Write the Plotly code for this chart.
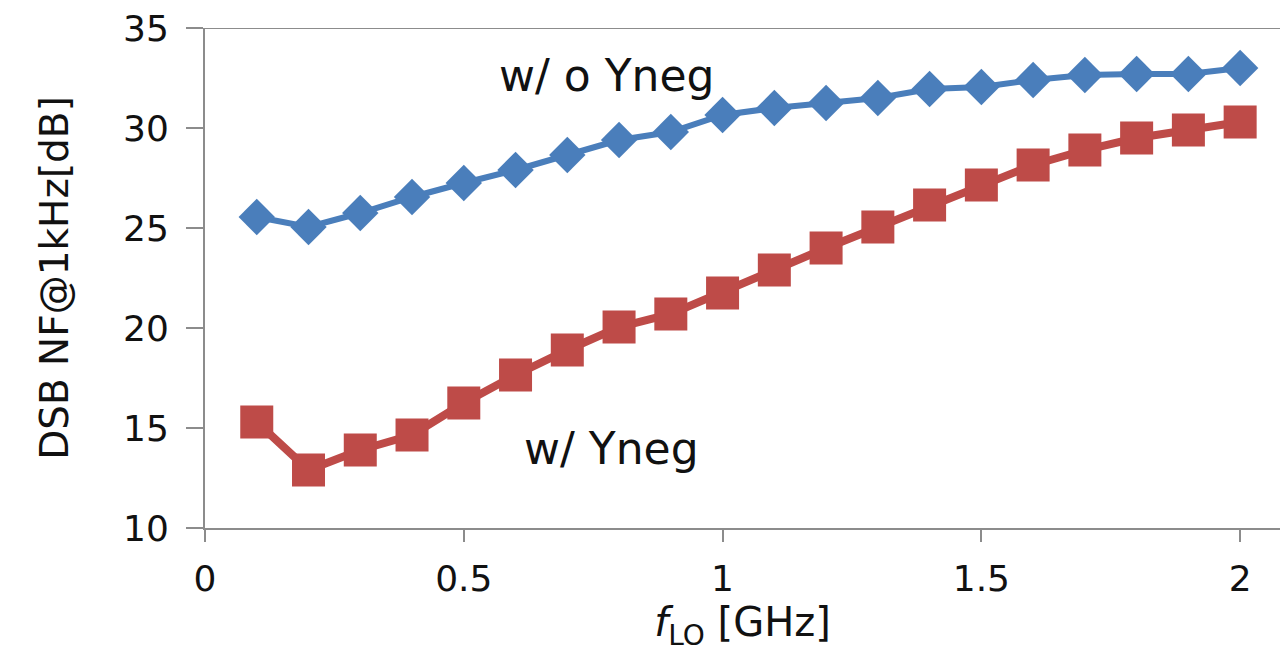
import plotly.graph_objects as go

f_lo = [0.1, 0.2, 0.3, 0.4, 0.5, 0.6, 0.7, 0.8, 0.9, 1.0,
        1.1, 1.2, 1.3, 1.4, 1.5, 1.6, 1.7, 1.8, 1.9, 2.0]
nf_without = [25.55, 25.05, 25.75, 26.55, 27.25, 27.9, 28.65, 29.4, 29.8, 30.65,
              31.0, 31.25, 31.5, 31.95, 32.05, 32.4, 32.65, 32.7, 32.7, 33.0]
nf_with = [15.3, 12.9, 13.9, 14.65, 16.25, 17.65, 18.9, 20.05, 20.7, 21.75,
           22.9, 24.0, 25.05, 26.15, 27.15, 28.15, 28.9, 29.5, 29.9, 30.3]
x_ticks = [0, 0.5, 1, 1.5, 2]
x_tick_text = ["0", "0.5", "1", "1.5", "2"]
y_ticks = [10, 15, 20, 25, 30, 35]
label_without = "w/ o Yneg"
label_with = "w/ Yneg"

FONT = "DejaVu Sans"
AXIS_COLOR = "#8c8c8c"

fig = go.Figure()
fig.add_trace(go.Scatter(
    x=f_lo, y=nf_without, mode="lines+markers", name=label_without,
    line=dict(color="#4A7EBB", width=6),
    marker=dict(symbol="diamond", size=28, color="#4A7EBB"),
))
fig.add_trace(go.Scatter(
    x=f_lo, y=nf_with, mode="lines+markers", name=label_with,
    line=dict(color="#BE4B48", width=8),
    marker=dict(symbol="square", size=33, color="#BE4B48"),
))

fig.add_annotation(x=0.775, y=32.65, text=label_without, showarrow=False,
                   font=dict(family=FONT, size=44, color="#111111"))
fig.add_annotation(x=0.786, y=14.0, text=label_with, showarrow=False,
                   font=dict(family=FONT, size=44, color="#111111"))

fig.add_shape(type="line", xref="paper", yref="y", x0=0, x1=1, y0=35, y1=35,
              line=dict(color=AXIS_COLOR, width=2), layer="below")

fig.update_layout(
    width=1280, height=654,
    margin=dict(l=205, r=0, t=28, b=126),
    paper_bgcolor="white", plot_bgcolor="white",
    showlegend=False,
    font=dict(family=FONT, color="#111111"),
)
fig.update_xaxes(
    range=[0, 2.077], tickvals=x_ticks, ticktext=x_tick_text,
    showgrid=False, zeroline=False,
    showline=True, linecolor=AXIS_COLOR, linewidth=2,
    ticks="outside", ticklen=12, tickwidth=2, tickcolor=AXIS_COLOR,
    tickfont=dict(family=FONT, size=36, color="#111111"),
    ticklabelstandoff=6,
    title=dict(text="<i>f</i><sub>LO</sub> [GHz]", standoff=10,
               font=dict(family=FONT, size=40, color="#111111")),
)
fig.update_yaxes(
    range=[10, 35], tickvals=y_ticks,
    showgrid=False, zeroline=False,
    showline=True, linecolor=AXIS_COLOR, linewidth=2,
    ticks="outside", ticklen=17, tickwidth=2, tickcolor=AXIS_COLOR,
    tickfont=dict(family=FONT, size=36, color="#111111"),
    ticklabelstandoff=10,
    title=dict(text="DSB NF@1kHz[dB]", standoff=42,
               font=dict(family=FONT, size=39, color="#111111")),
)

fig.write_html("out.html")
